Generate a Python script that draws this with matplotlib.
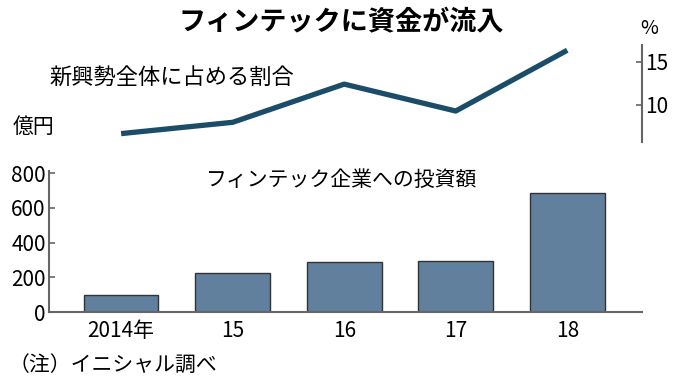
import matplotlib
matplotlib.use("Agg")
import matplotlib.pyplot as plt

plt.rcParams['font.family'] = ['Noto Sans CJK JP', 'DejaVu Sans']

# data
years = ['2014年', '15', '16', '17', '18']
invest = [95, 225, 290, 295, 685]          # 億円
share = [6.7, 8.0, 12.4, 9.3, 16.3]        # %
bar_ticks = [0, 200, 400, 600, 800]
share_ticks = [10, 15]

num_font = ['Liberation Sans Narrow', 'Noto Sans CJK JP']
grey = '#666666'
bar_color = '#60809d'
line_color = '#1b4c68'

fig = plt.figure(figsize=(6.8, 3.85), dpi=100)
x = list(range(len(years)))
xlim = (-0.65, 4.67)

# upper line panel
ax1 = fig.add_axes([0.0715, 0.632, 0.8726, 0.251])
ax1.plot(x, share, color=line_color, linewidth=3.8, solid_capstyle='butt')
ax1.set_xlim(*xlim)
ax1.set_ylim(5.77, 16.9)
for s in ['left', 'top', 'bottom']:
    ax1.spines[s].set_visible(False)
ax1.spines['right'].set_color(grey)
ax1.spines['right'].set_linewidth(1.5)
ax1.yaxis.tick_right()
ax1.set_yticks(share_ticks)
ax1.set_yticklabels([str(t) for t in share_ticks], family=num_font, fontsize=15)
ax1.tick_params(axis='y', direction='in', length=4, width=1.2, color=grey, pad=2)
ax1.set_xticks([])

# lower bar panel
ax2 = fig.add_axes([0.0715, 0.1896, 0.8726, 0.361])
ax2.bar(x, invest, width=0.67, color=bar_color, edgecolor='#333333', linewidth=1.0)
ax2.set_xlim(*xlim)
ax2.set_ylim(0, 800)
for s in ['right', 'top']:
    ax2.spines[s].set_visible(False)
for s in ['left', 'bottom']:
    ax2.spines[s].set_color(grey)
    ax2.spines[s].set_linewidth(1.5)
ax2.spines['left'].set_bounds(0, 810)
ax2.set_yticks(bar_ticks)
ax2.set_yticklabels([str(t) for t in bar_ticks], family=num_font, fontsize=15)
ax2.tick_params(axis='y', direction='in', length=4, width=1.2, color=grey, pad=2)
ax2.set_xticks(x)
ax2.set_xticklabels(years, family=num_font, fontsize=15)
ax2.tick_params(axis='x', length=0, pad=6)

# texts
fig.text(0.502, 0.944, 'フィンテックに資金が流入', ha='center', va='center',
         fontsize=19.5, fontweight='bold')
fig.text(0.073, 0.80, '新興勢全体に占める割合', ha='left', va='center', fontsize=16)
fig.text(0.019, 0.67, '億円', ha='left', va='center', fontsize=15)
fig.text(0.955, 0.927, '%', ha='center', va='center', fontsize=14, family=num_font)
fig.text(0.502, 0.532, 'フィンテック企業への投資額', ha='center', va='center', fontsize=15)
fig.text(0.012, 0.052, '（注）イニシャル調べ', ha='left', va='center', fontsize=15)

fig.savefig('out.png', dpi=100)
